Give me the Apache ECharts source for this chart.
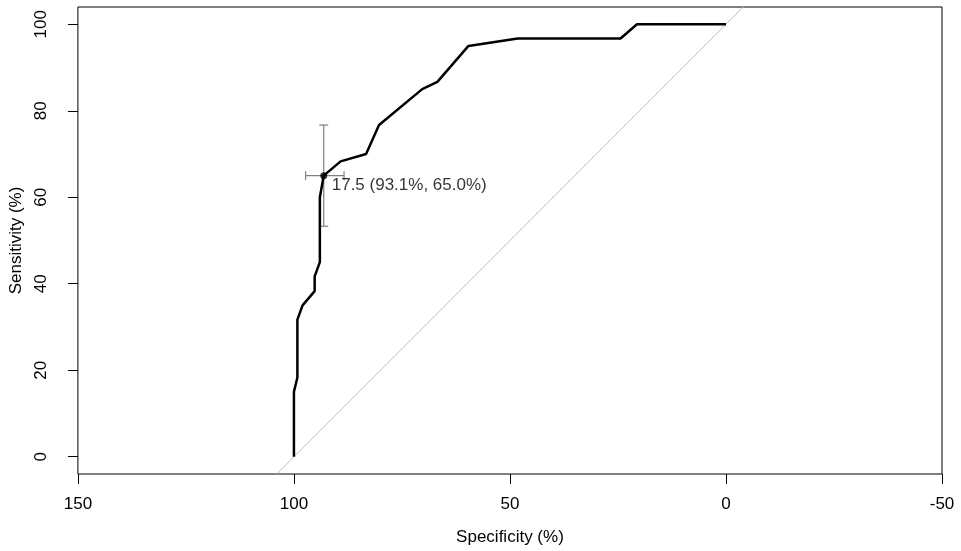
<!DOCTYPE html>
<html>
<head>
<meta charset="utf-8">
<script src="https://cdn.jsdelivr.net/npm/echarts@6/dist/echarts.min.js"></script>
<style>html,body{margin:0;padding:0;background:#fff}#c{width:961px;height:551px}</style>
</head>
<body>
<div id="c"></div>
<script>
// ROC curve (specificity %, sensitivity %)
var specificity = [100, 100, 99.2, 99.2, 98.0, 95.2, 95.2, 94.0, 94.0, 93.1, 89.2, 83.3, 80.3, 70.3, 66.8, 59.6, 48.2, 24.4, 20.6, 0];
var sensitivity = [0, 15.0, 18.3, 31.7, 35.0, 38.3, 41.7, 45.0, 60.0, 65.0, 68.3, 70.0, 76.7, 85.0, 86.7, 95.0, 96.7, 96.7, 100, 100];
// chance diagonal (abline through (100,0) and (0,100))
var diagSpec = [150, -50];
var diagSens = [-50, 150];
// best threshold and its confidence intervals
var bestThreshold = 17.5;
var bestPoint = [93.1, 65.0];
var ciSpec = [97.3, 88.4];
var ciSens = [53.3, 76.7];
// axis ticks
var xTicks = [150, 100, 50, 0, -50];
var yTicks = [0, 20, 40, 60, 80, 100];

var FONT = '"Liberation Sans", Arial, Helvetica, sans-serif';
var rocData = specificity.map(function (s, i) { return [s, sensitivity[i]]; });
var diagData = diagSpec.map(function (s, i) { return [s, diagSens[i]]; });

var chart = echarts.init(document.getElementById('c'));
chart.setOption({
  animation: false,
  backgroundColor: '#fff',
  textStyle: { fontFamily: FONT },
  grid: { left: 77, right: 19, top: 7, bottom: 76, show: true, borderColor: '#000', borderWidth: 1, backgroundColor: 'transparent' },
  xAxis: {
    type: 'value', inverse: true, min: xTicks[xTicks.length - 1], max: xTicks[0], interval: 50,
    name: 'Specificity (%)', nameLocation: 'middle', nameGap: 55,
    nameTextStyle: { fontSize: 17, color: '#000', fontFamily: FONT },
    axisLine: { show: false, onZero: false },
    axisTick: { show: true, length: 10, lineStyle: { color: '#000' } },
    axisLabel: { fontSize: 17, color: '#000', margin: 22, fontFamily: FONT, showMinLabel: true, showMaxLabel: true },
    splitLine: { show: false }
  },
  yAxis: {
    type: 'value', min: -4, max: 104,
    name: 'Sensitivity (%)', nameLocation: 'middle', nameGap: 52,
    nameTextStyle: { fontSize: 17, color: '#000', fontFamily: FONT },
    axisLine: { show: false, onZero: false },
    axisTick: { show: true, length: 10, lineStyle: { color: '#000' }, customValues: yTicks },
    axisLabel: { fontSize: 17, color: '#000', margin: 28, rotate: 90, fontFamily: FONT, customValues: yTicks },
    splitLine: { show: false }
  },
  series: [
    {
      type: 'line', data: diagData, symbol: 'none', clip: true,
      lineStyle: { color: '#bebebe', width: 1 }, z: 1
    },
    {
      type: 'line', data: rocData, symbol: 'none', clip: true,
      lineStyle: { color: '#000', width: 2.5 }, z: 3
    },
    {
      type: 'custom', z: 2,
      data: [[bestPoint[0], bestPoint[1], ciSpec[0], ciSpec[1], ciSens[0], ciSens[1]]],
      renderItem: function (params, api) {
        var px = api.value(0), py = api.value(1);
        var s1 = api.coord([api.value(2), py]);
        var s2 = api.coord([api.value(3), py]);
        var t1 = api.coord([px, api.value(4)]);
        var t2 = api.coord([px, api.value(5)]);
        var st = { stroke: '#7f7f7f', lineWidth: 1.2 };
        var c = 4.5;
        return {
          type: 'group',
          children: [
            { type: 'line', shape: { x1: s1[0], y1: s1[1], x2: s2[0], y2: s2[1] }, style: st },
            { type: 'line', shape: { x1: s1[0], y1: s1[1] - c, x2: s1[0], y2: s1[1] + c }, style: st },
            { type: 'line', shape: { x1: s2[0], y1: s2[1] - c, x2: s2[0], y2: s2[1] + c }, style: st },
            { type: 'line', shape: { x1: t1[0], y1: t1[1], x2: t2[0], y2: t2[1] }, style: st },
            { type: 'line', shape: { x1: t1[0] - c, y1: t1[1], x2: t1[0] + c, y2: t1[1] }, style: st },
            { type: 'line', shape: { x1: t2[0] - c, y1: t2[1], x2: t2[0] + c, y2: t2[1] }, style: st }
          ]
        };
      }
    },
    {
      type: 'scatter', z: 4,
      data: [bestPoint],
      symbol: 'circle', symbolSize: 7,
      itemStyle: { color: '#000' },
      label: {
        show: true, position: 'right', distance: 4.5, offset: [0, 10],
        fontSize: 17, color: '#000', fontFamily: FONT,
        formatter: function () {
          return bestThreshold.toFixed(1) + ' (' + bestPoint[0].toFixed(1) + '%, ' + bestPoint[1].toFixed(1) + '%)';
        }
      }
    }
  ]
});
</script>
</body>
</html>
